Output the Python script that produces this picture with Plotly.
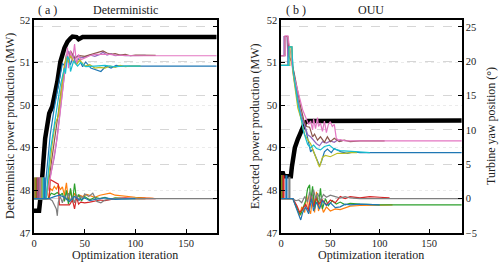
import plotly.graph_objects as go

# ---------------- colours (tab10) ----------------
C_BLUE, C_ORANGE, C_GREEN, C_RED = "#1f77b4", "#ff7f0e", "#2ca02c", "#d62728"
C_PURPLE, C_BROWN, C_PINK, C_GRAY = "#9467bd", "#8c564b", "#e377c2", "#7f7f7f"
C_OLIVE, C_CYAN = "#bcbd22", "#17becf"

# ---------------- (a) Deterministic ----------------
det_power_it = [0, 5, 7, 11, 15, 18, 23, 26, 30, 33, 36, 38, 42, 44, 48, 180]
det_power_mw = [47.52, 47.52, 47.97, 49.22, 49.81, 49.97, 50.55, 51.02, 51.34, 51.49, 51.57, 51.61, 51.6, 51.55, 51.6, 51.6]

det_t0_it = [0, 0, 1, 1, 10, 13, 16, 20, 23, 26, 28, 31, 33, 36, 39, 41, 44, 48, 51, 56, 61, 66, 71, 76, 81, 86, 180]
det_t0_yaw = [0, 3, 3, 0, 0, 4.9, 9.3, 13.2, 15.6, 18.0, 19.7, 19.2, 20.4, 19.5, 20.9, 19.7, 20.4, 19.2, 19.9, 19.0, 18.8, 18.5, 19.3, 19.0, 19.4, 19.3, 19.3]

det_t1_it = [0, 1, 1, 2, 2, 14, 16, 18, 20, 22, 24, 26, 28, 30, 32, 34, 36, 38, 40, 42, 45, 48, 52, 56, 60, 65, 70, 75, 80, 85, 90, 95, 100, 110, 118]
det_t1_yaw = [0, 0, 3, 3, 0, 0, 1.5, 1.2, 1.8, 1.4, 2.0, 1.3, 1.7, 0.5, 2.3, -0.5, 1.2, -0.3, 0.8, 0.2, 0.5, 0.3, 0.6, 0.4, 0.2, 0.5, 0.6, 0.8, 0.5, 0.4, 0.3, 0.2, 0.2, 0.1, 0.05]

det_t2_it = [0, 2, 2, 3, 3, 14, 17, 20, 23, 26, 28, 30, 32, 34, 36, 38, 40, 42, 44, 47, 50, 55, 60, 65, 70, 75, 80, 90, 100, 110]
det_t2_yaw = [0, 0, 3, 3, 0, 0, 0.8, 0.6, 0.9, 0.5, 0.8, -0.4, 1.2, -0.8, 1.5, -0.5, 2.2, -0.2, 0.6, -0.3, 0.3, -0.2, 0.2, 0.0, 0.2, -0.1, 0.1, 0.0, 0.05, 0]

det_t3_it = [0, 3, 3, 4, 4, 13, 15, 16, 20, 24, 25, 26, 30, 33, 35, 38, 40, 42, 44, 46, 50, 55, 60, 65, 70, 75, 80, 90, 100, 110, 120]
det_t3_yaw = [0, 0, 3, 3, 0, 0, 0, 2.8, 2.5, 2.1, -0.9, -0.9, -0.9, -0.8, -0.9, -0.2, -1.5, 0.2, -0.8, -0.5, -0.6, -0.5, -0.4, -0.2, -0.3, -0.1, 0.0, 0.1, 0.0, 0.05, 0]

det_t4_it = [0, 4, 4, 5, 5, 12, 15, 18, 20, 22, 24, 26, 28, 30, 32, 34, 36, 38, 40, 43, 46, 50, 55, 60, 65, 68, 72, 76, 80, 85, 90, 100, 110]
det_t4_yaw = [0, 0, 3, 3, 0, 0, 2.5, 4.5, 6.0, 8.0, 10.5, 13.0, 16.0, 18.0, 20.0, 21.5, 20.5, 21.0, 20.3, 20.8, 20.5, 20.6, 20.9, 20.7, 21.0, 21.3, 20.9, 21.1, 20.8, 20.9, 20.8, 20.85, 20.85]

det_t5_it = [0, 5, 5, 6, 6, 12, 15, 18, 21, 24, 27, 30, 32, 34, 36, 40, 45, 50, 55, 60, 65, 68, 72, 76, 80, 85, 90, 95, 100, 110, 120]
det_t5_yaw = [0, 0, 3, 3, 0, 0, 3, 6, 9, 12.5, 16, 19, 21, 20, 21.5, 20.5, 20.8, 20.7, 20.9, 21.1, 21.4, 21.5, 21.2, 21.0, 21.1, 20.9, 21.0, 20.8, 20.9, 20.85, 20.85]

det_t6_it = [0, 6, 6, 7, 7, 12, 16, 19, 21, 23, 25, 27, 29, 31, 33, 34, 36, 38, 40, 42, 44, 46, 50, 55, 60, 65, 70, 75, 80, 90, 100, 180]
det_t6_yaw = [0, 0, 3, 3, 0, 0, 3, 5.5, 7, 9, 11.5, 14, 17, 19.5, 22, 19, 21.5, 20, 22.5, 19.5, 21, 20.2, 20.5, 20.8, 21.0, 21.0, 21.1, 21.0, 20.9, 20.8, 20.8, 20.8]

det_t7_it = [0, 7, 7, 8, 8, 15, 18, 20, 22, 23, 24, 26, 28, 30, 32, 34, 36, 38, 40, 42, 44, 46, 48, 50, 54, 58, 62, 66, 70, 75, 80, 90, 180]
det_t7_yaw = [0, 0, 3, 3, 0, 0, -0.3, -0.8, -1.5, -2.5, -0.5, 0.3, -0.6, 0.5, -0.2, 0.8, -0.4, 0.3, -0.6, 0.6, -0.3, 0.4, 0.0, 0.7, 0.3, 0.8, -0.4, -0.6, -0.2, -0.1, 0.0, 0, 0]

det_t8_it = [0, 8, 8, 9, 9, 12, 15, 18, 21, 24, 26, 28, 30, 32, 34, 36, 39, 42, 45, 50, 55, 60, 65, 70, 75, 80, 85, 90, 95, 105]
det_t8_yaw = [0, 0, 3, 3, 0, 0, 4, 8, 11, 12, 14.5, 17, 19.5, 20.5, 19.8, 20.8, 20, 19.5, 20.2, 19.3, 19.5, 19.0, 19.1, 19.0, 19.3, 19.1, 19.4, 19.2, 19.3, 19.3]

det_t9_it = [0, 9, 9, 10, 10, 12, 13, 16, 20, 23, 26, 30, 31, 33, 35, 36, 39, 43, 46, 51, 56, 60, 70, 80, 90, 105]
det_t9_yaw = [0, 0, 3, 3, 0, 0, 2, 6.9, 10.7, 13.6, 16.5, 19, 18.2, 20.7, 20.2, 18.5, 20.0, 19.3, 19.8, 19.2, 19.3, 19.3, 19.4, 19.2, 19.3, 19.3]

det_t10_it = [0, 10, 10, 11, 11, 15, 20, 25, 30, 35, 40, 45, 50, 55, 60, 70, 80, 90, 100]
det_t10_yaw = [0, 0, 3, 3, 0, 0, 0.3, 0.5, 0.2, -0.4, 0.3, -0.2, 0.1, -0.3, -0.1, 0.1, -0.1, 0, 0]

# ---------------- (b) OUU ----------------
ouu_power_it = [0, 2, 3, 10, 11, 12, 14, 17, 19, 21, 24, 27, 183]
ouu_power_mw = [48.4, 48.4, 48.33, 48.33, 48.55, 48.72, 49.0, 49.2, 49.3, 49.45, 49.58, 49.63, 49.64]

ouu_t0_it = [0, 7, 7, 11, 12, 14, 17, 20, 24, 27, 30, 32, 34, 36, 39, 41, 44, 47, 51, 54, 61, 67, 74, 80, 183]
ouu_t0_yaw = [19.4, 19.4, 22.1, 22.1, 19.2, 17.1, 14.5, 11.8, 10.7, 8.8, 6.8, 7.2, 6.5, 6.0, 4.8, 5.4, 6.8, 7.2, 6.7, 7.3, 6.8, 6.6, 6.8, 6.7, 6.7]

ouu_t1_it = [0, 0, 1, 1, 12, 16, 19, 21, 24, 26, 28, 30, 32, 34, 36, 38, 40, 43, 46, 50, 55, 60, 65, 70, 80, 90, 100, 113]
ouu_t1_yaw = [0, 3.3, 3.3, 0, 0, -1.5, -2.5, -1.2, -2.0, 0.5, -1.5, -2.2, 0.2, -2.0, 1.0, -1.8, -0.5, -2.0, -1.2, -1.8, -1.5, -1.6, -1.3, -1.1, -1.0, -1.0, -0.9, -0.9]

ouu_t2_it = [0, 1, 1, 2, 2, 12, 15, 18, 20, 22, 25, 27, 29, 30, 32, 34, 36, 38, 40, 42, 45, 48, 52, 56, 60, 65, 70, 80, 90, 100, 183]
ouu_t2_yaw = [0, 0, 3.3, 3.3, 0, 0, -1, -2, -2.3, -1.5, -0.3, 1.5, 2.0, -0.5, 1.8, -1.5, 0.5, -1.0, 1.5, -1.5, 0.0, -1.0, -0.3, -0.8, -0.5, -0.9, -0.7, -0.8, -0.9, -0.9, -0.9]

ouu_t3_it = [0, 2, 2, 3, 3, 12, 16, 19, 22, 25, 28, 30, 33, 35, 38, 42, 46, 50, 55, 60, 65, 70, 80, 90, 100, 110]
ouu_t3_yaw = [0, 0, 3.3, 3.3, 0, 0, -1, -2, -1.5, -0.8, -1.8, 0.5, -1.2, 0.3, -0.8, -0.2, -0.9, -0.2, -0.6, 0.3, 0.0, 0.3, 0.1, 0.3, 0.2, 0.1]

ouu_t4_it = [0, 3, 3, 6, 7, 11, 13, 16, 20, 24, 27, 30, 33, 36, 39, 42, 46, 50, 54, 57, 62]
ouu_t4_yaw = [20.8, 20.8, 23.6, 23.6, 20.8, 20.0, 17.5, 15.0, 12.5, 10.5, 9.3, 9.0, 8.5, 8.0, 7.7, 8.3, 8.1, 8.4, 8.2, 8.5, 8.4]

ouu_t5_it = [0, 4, 4, 7, 8, 11, 14, 17, 20, 23, 26, 29, 32, 34, 37, 40, 44, 47, 50, 54, 59, 64, 70, 80, 90, 105]
ouu_t5_yaw = [20.8, 20.8, 23.6, 23.6, 20.8, 19.8, 17.8, 15.5, 13.3, 11.5, 10.5, 10.4, 9.0, 9.4, 8.5, 9.0, 8.2, 9.0, 8.3, 8.8, 8.3, 8.5, 8.3, 8.4, 8.4, 8.4]

ouu_t6_it = [0, 4, 4, 7, 8, 10, 12, 16, 19, 22, 26, 28, 30, 32, 33, 35, 37, 38, 40, 42, 44, 46, 48, 50, 52, 54, 56, 58, 60, 65, 70, 80, 183]
ouu_t6_yaw = [20.8, 20.8, 23.7, 23.7, 22.7, 21.0, 18.5, 16.3, 14.8, 12.9, 11.5, 10.8, 11.3, 10.0, 11.6, 10.2, 11.8, 10.5, 11.0, 9.8, 11.3, 9.6, 10.8, 11.2, 10.5, 10.8, 8.8, 8.5, 8.6, 8.4, 8.4, 8.4, 8.4]

ouu_t7_it = [0, 8, 8, 9, 9, 12, 15, 18, 21, 24, 27, 29, 31, 33, 35, 37, 40, 43, 46, 50, 55, 60, 65, 70, 80, 90, 183]
ouu_t7_yaw = [0, 0, 3.1, 3.1, 0, 0, -0.3, -0.2, -0.6, 0.3, -0.5, 1.0, -0.2, 1.3, 0.0, 0.8, -0.3, 0.6, 0.2, 0.5, 0.3, 0.1, 0.3, 0.1, 0.0, 0.0, 0.0]

ouu_t8_it = [0, 9, 9, 11, 12, 14, 17, 20, 24, 27, 30, 34, 37, 39, 42, 45, 50, 57, 64, 70, 77]
ouu_t8_yaw = [19.4, 19.4, 22.1, 22.1, 18.5, 16.2, 13.2, 11.8, 9.3, 8.6, 8.0, 6.5, 5.5, 4.6, 6.0, 6.3, 6.1, 6.6, 6.6, 6.7, 6.7]

ouu_t9_it = [0, 8, 8, 11, 12, 14, 17, 20, 23, 27, 30, 33, 36, 40, 44, 49, 54, 60, 70, 80, 90]
ouu_t9_yaw = [19.4, 19.4, 22.1, 22.1, 19.0, 17.0, 14.0, 12.0, 9.7, 7.9, 7.4, 7.8, 7.3, 7.1, 7.6, 7.8, 7.2, 7.0, 6.9, 6.8, 6.7]

ouu_t10_it = [0, 5, 5, 6, 6, 12, 15, 18, 20, 22, 25, 28, 31, 33, 36, 39, 42, 46, 50, 55, 60, 65, 70, 80, 90, 100]
ouu_t10_yaw = [0, 0, 3.3, 3.3, 0, 0, -1.2, -2.5, -3.1, -2.0, -1.2, -2.2, 0.0, -1.8, -0.5, -1.5, -0.3, -1.0, -0.6, -1.3, -1.2, -0.8, -0.9, -0.8, -0.9, -0.9]

turbine_colors = [C_BLUE, C_ORANGE, C_GREEN, C_RED, C_PURPLE, C_BROWN, C_PINK, C_GRAY, C_OLIVE, C_CYAN, C_BLUE]

det_series = [(det_t0_it, det_t0_yaw), (det_t1_it, det_t1_yaw), (det_t2_it, det_t2_yaw), (det_t3_it, det_t3_yaw),
              (det_t4_it, det_t4_yaw), (det_t5_it, det_t5_yaw), (det_t6_it, det_t6_yaw), (det_t7_it, det_t7_yaw),
              (det_t8_it, det_t8_yaw), (det_t9_it, det_t9_yaw), (det_t10_it, det_t10_yaw)]
ouu_series = [(ouu_t0_it, ouu_t0_yaw), (ouu_t1_it, ouu_t1_yaw), (ouu_t2_it, ouu_t2_yaw), (ouu_t3_it, ouu_t3_yaw),
              (ouu_t4_it, ouu_t4_yaw), (ouu_t5_it, ouu_t5_yaw), (ouu_t6_it, ouu_t6_yaw), (ouu_t7_it, ouu_t7_yaw),
              (ouu_t8_it, ouu_t8_yaw), (ouu_t9_it, ouu_t9_yaw), (ouu_t10_it, ouu_t10_yaw)]

power_ticks = [47, 48, 49, 50, 51, 52]
yaw_ticks = [-5, 0, 5, 10, 15, 20, 25]
yaw_ticktext = ["\u22125", "0", "5", "10", "15", "20", "25"]
iter_ticks = [0, 50, 100, 150]

FONT = "Liberation Serif, Times New Roman, serif"
W, H = 500, 264

fig = go.Figure()

fig.add_trace(go.Scatter(x=det_power_it, y=det_power_mw, mode="lines", xaxis="x", yaxis="y",
                         line=dict(color="black", width=4.5), showlegend=False))
for (it, yw), col in zip(det_series, turbine_colors):
    fig.add_trace(go.Scatter(x=it, y=yw, mode="lines", xaxis="x", yaxis="y2",
                             line=dict(color=col, width=1.2), showlegend=False))

fig.add_trace(go.Scatter(x=ouu_power_it, y=ouu_power_mw, mode="lines", xaxis="x2", yaxis="y3",
                         line=dict(color="black", width=4.5), showlegend=False))
for (it, yw), col in zip(ouu_series, turbine_colors):
    fig.add_trace(go.Scatter(x=it, y=yw, mode="lines", xaxis="x2", yaxis="y4",
                             line=dict(color=col, width=1.2), showlegend=False))


def px_x(p):
    return p / W


def px_y(p):
    return 1 - p / H


ydom = [px_y(233), px_y(20)]
tick_font = dict(family=FONT, size=10.5, color="#222")
common_x = dict(ticks="inside", ticklen=4, tickwidth=1, tickcolor="black", showline=True, linecolor="black",
                linewidth=1.5, mirror=True, showgrid=False, zeroline=False, tickvals=iter_ticks,
                tickfont=tick_font, automargin=False)
common_pow = dict(range=[47, 52], tickvals=power_ticks, ticks="inside", ticklen=4, tickcolor="black",
                  showline=True, linecolor="black", linewidth=1.5, mirror=True, zeroline=False,
                  showgrid=True, gridcolor="#ebebeb", griddash="dot", gridwidth=1,
                  tickfont=tick_font, domain=ydom, automargin=False)
common_yaw = dict(range=[-5, 26], tickvals=yaw_ticks, ticktext=yaw_ticktext, ticks="inside", ticklen=4,
                  tickcolor="black", side="right", showline=True, linecolor="black", linewidth=1.5,
                  zeroline=False, showgrid=True, gridcolor="#d6d6d6", griddash="dash", gridwidth=1,
                  tickfont=tick_font, automargin=False)

fig.update_layout(
    width=W, height=H, margin=dict(l=0, r=0, t=0, b=0),
    paper_bgcolor="white", plot_bgcolor="white",
    xaxis=dict(domain=[px_x(34), px_x(217)], range=[0, 180.5], anchor="y", **common_x),
    yaxis=dict(anchor="x", **common_pow),
    yaxis2=dict(overlaying="y", anchor="x", showticklabels=False, **common_yaw),
    xaxis2=dict(domain=[px_x(281), px_x(462)], range=[0, 183.4], anchor="y3", **common_x),
    yaxis3=dict(anchor="x2", **common_pow),
    yaxis4=dict(overlaying="y3", anchor="x2", showticklabels=True, **common_yaw),
)

ann_font = dict(family=FONT, size=12, color="#222")
annotations = [
    dict(text="( a )", x=px_x(47), y=px_y(10)),
    dict(text="Deterministic", x=px_x(125), y=px_y(10)),
    dict(text="( b )", x=px_x(296), y=px_y(10)),
    dict(text="OUU", x=px_x(371), y=px_y(10)),
    dict(text="Optimization iteration", x=px_x(125), y=px_y(255)),
    dict(text="Optimization iteration", x=px_x(371), y=px_y(255)),
    dict(text="Deterministic power production (MW)", x=px_x(10), y=px_y(126), textangle=-90),
    dict(text="Expected power production (MW)", x=px_x(255), y=px_y(126), textangle=-90),
    dict(text="Turbine yaw position (\u00b0)", x=px_x(491), y=px_y(126), textangle=-90),
]
fig.update_layout(annotations=[dict(xref="paper", yref="paper", showarrow=False, font=ann_font,
                                    xanchor="center", yanchor="middle", **a) for a in annotations])

fig.write_html("out.html", config={"displayModeBar": False},
               post_script="document.body.style.margin='0';document.body.style.overflow='hidden';")
